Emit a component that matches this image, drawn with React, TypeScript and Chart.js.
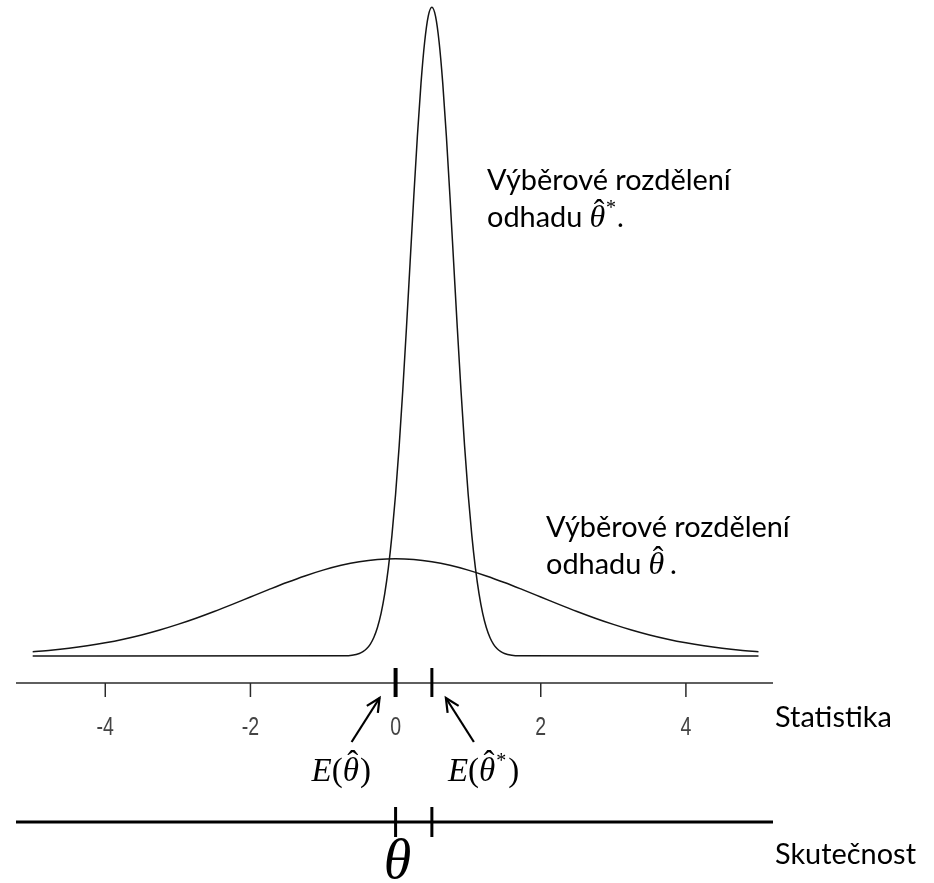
import React, { useEffect, useRef } from "react";
import { Chart, registerables } from "chart.js";

Chart.register(...registerables);

// Sampling distribution of the estimator θ̂ (wide curve)
const wideX = [
  -5, -4.75, -4.5, -4.25, -4, -3.75, -3.5, -3.25, -3, -2.75, -2.5, -2.25, -2, -1.75, -1.5, -1.25, -1, -0.75, -0.5, -0.25,
  0, 0.25, 0.5, 0.75, 1, 1.25, 1.5, 1.75, 2, 2.25, 2.5, 2.75, 3, 3.25, 3.5, 3.75, 4, 4.25, 4.5, 4.75, 5,
];
const wideY = [
  0.0088, 0.0119, 0.0159, 0.0209, 0.027, 0.0344, 0.0431, 0.0533, 0.0648, 0.0775, 0.0913, 0.1059, 0.121, 0.136, 0.1506,
  0.1641, 0.176, 0.1859, 0.1933, 0.1979, 0.1995, 0.1979, 0.1933, 0.1859, 0.176, 0.1641, 0.1506, 0.136, 0.121, 0.1059,
  0.0913, 0.0775, 0.0648, 0.0533, 0.0431, 0.0344, 0.027, 0.0209, 0.0159, 0.0119, 0.0088,
];

// Sampling distribution of the estimator θ̂* (narrow curve)
const narrowX = [
  -5, -0.7, -0.6, -0.5, -0.45, -0.4, -0.35, -0.3, -0.25, -0.2, -0.15, -0.1, -0.05, 0, 0.05, 0.1, 0.15, 0.2, 0.25, 0.3,
  0.35, 0.4, 0.45, 0.5, 0.55, 0.6, 0.65, 0.7, 0.75, 0.8, 0.85, 0.9, 0.95, 1, 1.05, 1.1, 1.15, 1.2, 1.25, 1.3, 1.35, 1.4,
  1.45, 1.5, 1.6, 1.7, 5,
];
const narrowY = [
  0, 0.0004, 0.0016, 0.0051, 0.0088, 0.0148, 0.024, 0.038, 0.0584, 0.0874, 0.1272, 0.18, 0.2477, 0.3316, 0.4317, 0.5467,
  0.6733, 0.8066, 0.9397, 1.0648, 1.1736, 1.2579, 1.3115, 1.3298, 1.3115, 1.2579, 1.1736, 1.0648, 0.9397, 0.8066,
  0.6733, 0.5467, 0.4317, 0.3316, 0.2477, 0.18, 0.1272, 0.0874, 0.0584, 0.038, 0.024, 0.0148, 0.0088, 0.0051, 0.0016,
  0.0004, 0,
];

const axisTicks = [-4, -2, 0, 2, 4];
const expectationMarks = [0, 0.5]; // E(θ̂), E(θ̂*)
const realityMarks = [0, 0.5]; // marks on the "Skutečnost" line
const thetaValue = 0;

const statisticLabel = "Statistika";
const realityLabel = "Skutečnost";
const curveLabelLine1 = "Výběrové rozdělení";
const curveLabelLine2 = "odhadu";

const SERIF = '"Liberation Serif", "Times New Roman", serif';
const SANS = 'Lato, "Open Sans", sans-serif';
const INK = "#141414";

function seg(ctx: CanvasRenderingContext2D, x1: number, y1: number, x2: number, y2: number, w: number, c = INK) {
  ctx.beginPath();
  ctx.moveTo(x1, y1);
  ctx.lineTo(x2, y2);
  ctx.lineWidth = w;
  ctx.strokeStyle = c;
  ctx.lineCap = "butt";
  ctx.stroke();
}

function arrow(ctx: CanvasRenderingContext2D, x1: number, y1: number, x2: number, y2: number) {
  seg(ctx, x1, y1, x2, y2, 2.2, "#000");
  const a = Math.atan2(y2 - y1, x2 - x1);
  const L = 15;
  const spread = 0.45;
  ctx.beginPath();
  ctx.moveTo(x2 - L * Math.cos(a - spread), y2 - L * Math.sin(a - spread));
  ctx.lineTo(x2, y2);
  ctx.lineTo(x2 - L * Math.cos(a + spread), y2 - L * Math.sin(a + spread));
  ctx.lineWidth = 2.2;
  ctx.strokeStyle = "#000";
  ctx.lineJoin = "miter";
  ctx.stroke();
}

function hatTheta(ctx: CanvasRenderingContext2D, x: number, baseline: number, size: number, star: boolean) {
  ctx.textAlign = "left";
  ctx.textBaseline = "alphabetic";
  ctx.font = `italic ${size}px ${SERIF}`;
  const w = ctx.measureText("θ").width;
  ctx.fillText("θ", x, baseline);
  ctx.textAlign = "center";
  ctx.font = `${size}px ${SERIF}`;
  ctx.fillText("ˆ", x + w * 0.62, baseline - size * 0.2);
  ctx.textAlign = "left";
  let adv = w;
  if (star) {
    ctx.font = `${Math.round(size * 0.62)}px ${SERIF}`;
    ctx.fillText("*", x + w + 1, baseline - size * 0.42);
    adv += ctx.measureText("*").width + 2;
  }
  return adv;
}

function expectationLabel(ctx: CanvasRenderingContext2D, x: number, baseline: number, star: boolean) {
  const size = 33;
  ctx.fillStyle = "#000";
  ctx.textAlign = "left";
  ctx.textBaseline = "alphabetic";
  ctx.font = `italic ${size}px ${SERIF}`;
  ctx.fillText("E", x, baseline);
  x += ctx.measureText("E").width;
  ctx.font = `${size}px ${SERIF}`;
  ctx.fillText("(", x, baseline);
  x += ctx.measureText("(").width;
  x += hatTheta(ctx, x, baseline, size, star);
  ctx.font = `${size}px ${SERIF}`;
  ctx.fillText(")", x + 1, baseline);
}

function curveLabel(ctx: CanvasRenderingContext2D, x: number, baseline: number, star: boolean, fontSize: number) {
  ctx.fillStyle = "#000";
  ctx.textAlign = "left";
  ctx.textBaseline = "alphabetic";
  ctx.font = `${fontSize}px ${SANS}`;
  ctx.fillText(curveLabelLine1, x, baseline);
  const b2 = baseline + 37;
  ctx.fillText(curveLabelLine2, x, b2);
  let cx = x + ctx.measureText(curveLabelLine2).width + 7;
  cx += hatTheta(ctx, cx, b2, 32, star);
  ctx.font = `${fontSize}px ${SANS}`;
  ctx.fillStyle = "#000";
  ctx.textAlign = "left";
  ctx.fillText(".", cx + (star ? 0 : 6), b2);
}

const overlayPlugin = {
  id: "overlay",
  afterDraw(chart: any) {
    const ctx = chart.ctx as CanvasRenderingContext2D;
    const xs = chart.scales.x;
    const area = chart.chartArea;
    const px = (v: number) => xs.getPixelForValue(v);
    ctx.save();

    // annotation font size fitted to the label width
    ctx.font = `100px ${SANS}`;
    const fs = (100 * 244) / ctx.measureText(curveLabelLine1).width;

    // statistic axis
    const axY = area.bottom;
    seg(ctx, area.left, axY, area.right, axY, 1.5, "#2a2a2a");
    axisTicks.forEach((t) => {
      seg(ctx, px(t), axY, px(t), axY + 14, 1.5, "#2a2a2a");
      ctx.save();
      ctx.translate(px(t), axY + 45);
      ctx.scale(0.78, 1);
      ctx.font = "25px Arial, Helvetica, sans-serif";
      ctx.fillStyle = "#444";
      ctx.textAlign = "center";
      ctx.textBaseline = "middle";
      ctx.fillText(String(t), 0, 0);
      ctx.restore();
    });

    // expectation marks
    expectationMarks.forEach((e, i) => {
      seg(ctx, px(e), axY - 15, px(e), axY + 14, i === 0 ? 4 : 3, "#000");
    });

    // arrows
    arrow(ctx, px(expectationMarks[0]) - 44, axY + 59, px(expectationMarks[0]) - 16, axY + 15);
    arrow(ctx, px(expectationMarks[1]) + 42, axY + 59, px(expectationMarks[1]) + 14, axY + 15);

    // E labels
    expectationLabel(ctx, px(expectationMarks[0]) - 84, axY + 98, false);
    expectationLabel(ctx, px(expectationMarks[1]) + 16, axY + 98, true);

    // Statistika
    ctx.font = `${fs}px ${SANS}`;
    ctx.fillStyle = "#000";
    ctx.textAlign = "left";
    ctx.textBaseline = "alphabetic";
    ctx.fillText(statisticLabel, 775, axY + 44);

    // reality line
    const rY = axY + 139;
    seg(ctx, area.left, rY, area.right, rY, 3, "#000");
    realityMarks.forEach((r) => seg(ctx, px(r), rY - 15, px(r), rY + 15, 3, "#000"));
    ctx.font = `${fs}px ${SANS}`;
    ctx.fillStyle = "#000";
    ctx.textAlign = "left";
    ctx.fillText(realityLabel, 775, rY + 42);

    // θ
    ctx.font = `italic 56px ${SERIF}`;
    ctx.textAlign = "center";
    ctx.fillText("θ", px(thetaValue) + 2, rY + 56);

    // curve labels
    curveLabel(ctx, 487, 190, true, fs);
    curveLabel(ctx, 546, 537, false, fs);

    ctx.restore();
  },
};

export default function App() {
  const ref = useRef<HTMLCanvasElement | null>(null);
  useEffect(() => {
    if (!ref.current) return;
    const chart = new Chart(ref.current, {
      type: "line",
      data: {
        datasets: [
          {
            label: "θ̂",
            data: wideX.map((x, i) => ({ x, y: wideY[i] })),
            borderColor: INK,
            borderWidth: 1.5,
            pointRadius: 0,
            fill: false,
            cubicInterpolationMode: "monotone",
          },
          {
            label: "θ̂*",
            data: narrowX.map((x, i) => ({ x, y: narrowY[i] })),
            borderColor: INK,
            borderWidth: 1.5,
            pointRadius: 0,
            fill: false,
            cubicInterpolationMode: "monotone",
          },
        ],
      },
      options: {
        animation: false,
        responsive: false,
        maintainAspectRatio: false,
        layout: { padding: { left: 16, right: 161, top: 0, bottom: 200 } },
        plugins: { legend: { display: false }, tooltip: { enabled: false } },
        scales: {
          x: { type: "linear", min: -5.23, max: 5.2, display: false },
          y: { type: "linear", min: -0.0553, max: 1.3445, display: false },
        },
      },
      plugins: [overlayPlugin],
    });
    return () => chart.destroy();
  }, []);
  return (
    <div style={{ position: "fixed", left: 0, top: 0, width: 934, height: 883, background: "#fff" }}>
      <canvas ref={ref} width={934} height={883} style={{ display: "block", width: 934, height: 883 }} />
    </div>
  );
}
